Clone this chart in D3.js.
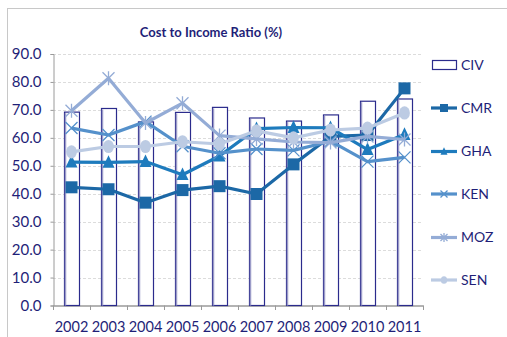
<!DOCTYPE html>
<html><head><meta charset="utf-8">
<script src="https://d3js.org/d3.v7.min.js"></script>
<style>
html,body{margin:0;padding:0;background:#fff;}
svg{display:block;}
text{font-family:Lato,"Liberation Sans",sans-serif;fill:#1f1f78;}
</style></head>
<body>
<script>
const years = ["2002","2003","2004","2005","2006","2007","2008","2009","2010","2011"];
const CIV = [69.2, 70.5, 65.7, 69.1, 70.9, 67.1, 66.0, 68.2, 73.1, 73.9];
const CMR = [42.3, 41.6, 36.8, 41.3, 42.7, 39.9, 50.5, 60.5, 61.0, 77.7];
const GHA = [51.3, 51.2, 51.5, 46.8, 53.5, 63.3, 63.7, 63.6, 55.8, 61.2];
const KEN = [63.5, 61.0, 65.8, 57.0, 54.5, 56.0, 55.5, 58.8, 51.5, 53.0];
const MOZ = [69.7, 81.3, 65.3, 72.4, 60.8, 59.6, 58.5, 58.3, 60.5, 59.4];
const SEN = [55.0, 56.9, 56.9, 58.6, 57.8, 62.5, 60.0, 62.8, 63.5, 68.9];
const yTicks = [0,10,20,30,40,50,60,70,80,90];
const title = "Cost to Income Ratio (%)";

const W = 507, H = 337;
const svg = d3.select("body").append("svg").attr("width", W).attr("height", H);

// outer frame
svg.append("rect").attr("x",7.5).attr("y",8.5).attr("width",W).attr("height",H)
  .attr("fill","none").attr("stroke","#c8c8c8").attr("stroke-width",1);

const x = d3.scaleBand().domain(years).range([53, 423]).padding(0);
const y = d3.scaleLinear().domain([0, 90]).range([305.5, 54]);

// gridlines
svg.append("g").selectAll("line").data(yTicks.slice(1)).join("line")
  .attr("x1", 53).attr("x2", 423)
  .attr("y1", d => Math.round(y(d)) + 0.5).attr("y2", d => Math.round(y(d)) + 0.5)
  .attr("stroke", "#dcdcdc").attr("stroke-dasharray", "3,2");

// y axis
const yAxis = d3.axisLeft(y).tickValues(yTicks).tickFormat(d3.format(".1f")).tickSize(3).tickPadding(9);
const gy = svg.append("g").attr("transform","translate(53.5,0)").call(yAxis);
gy.select(".domain").attr("stroke","#9a9a9a");
gy.selectAll(".tick line").attr("stroke","#9a9a9a");
gy.selectAll(".tick text").attr("font-size", 15).attr("font-family","Lato, sans-serif").attr("fill","#1f1f78");

// x axis
const xAxis = d3.axisBottom(x).tickSize(0).tickPadding(16);
const gx = svg.append("g").attr("transform","translate(0,305.5)").call(xAxis);
gx.select(".domain").attr("stroke","#9a9a9a").attr("stroke-width",1.5);
gx.selectAll(".tick text").attr("font-size", 14.5).attr("font-family","Lato, sans-serif").attr("fill","#1f1f78");
// band boundary ticks
svg.append("g").selectAll("line").data(d3.range(years.length + 1)).join("line")
  .attr("x1", i => 53 + i * x.bandwidth() + 0.5).attr("x2", i => 53 + i * x.bandwidth() + 0.5)
  .attr("y1", 305.5).attr("y2", 310).attr("stroke","#9a9a9a");

// CIV bars
const bw = 15;
const bars = svg.append("g");
bars.selectAll("rect").data(years).join("rect")
  .attr("x", (d) => Math.round(x(d) + x.bandwidth()/2 - bw/2) + 0.5)
  .attr("y", (d,i) => y(CIV[i]))
  .attr("width", bw)
  .attr("height", (d,i) => y(0) - y(CIV[i]))
  .attr("fill","#fff").attr("stroke","#2b2b8c").attr("stroke-width",1.2);
// lavender shading on left edge
bars.selectAll("line").data(years).join("line")
  .attr("x1", d => Math.round(x(d) + x.bandwidth()/2 - bw/2) + 1.5)
  .attr("x2", d => Math.round(x(d) + x.bandwidth()/2 - bw/2) + 1.5)
  .attr("y1", (d,i) => y(CIV[i]) + 1).attr("y2", y(0))
  .attr("stroke","#9c9cc8").attr("stroke-width",1.5);

const cx = d => x(d) + x.bandwidth()/2;

const series = [
  {name:"CMR", vals:CMR, color:"#1c68a6", marker:"square"},
  {name:"GHA", vals:GHA, color:"#1e7bbd", marker:"triangle"},
  {name:"KEN", vals:KEN, color:"#5591cb", marker:"x"},
  {name:"MOZ", vals:MOZ, color:"#94acd6", marker:"star"},
  {name:"SEN", vals:SEN, color:"#bccbe3", marker:"circle"}
];

function drawMarker(g, type, color, px, py, s) {
  if (type === "square") {
    g.append("rect").attr("x", px - s/2).attr("y", py - s/2).attr("width", s).attr("height", s).attr("fill", color);
  } else if (type === "triangle") {
    g.append("path").attr("d", `M${px},${py - s*0.6}L${px + s*0.5},${py + s*0.45}L${px - s*0.5},${py + s*0.45}Z`).attr("fill", color);
  } else if (type === "x") {
    const h = s/2;
    g.append("path").attr("d", `M${px-h},${py-h}L${px+h},${py+h}M${px-h},${py+h}L${px+h},${py-h}`)
      .attr("stroke", color).attr("stroke-width", 1.3).attr("fill","none");
  } else if (type === "star") {
    const h = s/2;
    g.append("path").attr("d", `M${px-h},${py-h}L${px+h},${py+h}M${px-h},${py+h}L${px+h},${py-h}M${px},${py-h-1}L${px},${py+h+1}`)
      .attr("stroke", color).attr("stroke-width", 1.3).attr("fill","none");
  } else if (type === "circle") {
    g.append("ellipse").attr("cx", px).attr("cy", py).attr("rx", s*0.45).attr("ry", s*0.55).attr("fill", color);
  }
}

const line = d3.line().x((d,i) => cx(years[i])).y(d => y(d));
series.forEach(s => {
  const g = svg.append("g");
  g.append("path").attr("d", line(s.vals)).attr("fill","none").attr("stroke", s.color)
    .attr("stroke-width", 3.2).attr("stroke-linejoin","round");
  s.vals.forEach((v,i) => drawMarker(g, s.marker, s.color, cx(years[i]), y(v), 12));
});

// title
svg.append("text").attr("x", 211).attr("y", 37).attr("text-anchor","middle")
  .attr("font-size", 13).attr("font-weight","bold").attr("fill","#1f1f78").text(title);

// legend
const lg = svg.append("g");
const legY = [65, 108, 151.5, 194, 237.5, 280];
lg.append("rect").attr("x", 432.5).attr("y", legY[0] - 4.5).attr("width", 24).attr("height", 9)
  .attr("fill","#fff").attr("stroke","#2b2b8c").attr("stroke-width",1.2);
lg.append("text").attr("x", 461).attr("y", legY[0]).attr("dy","0.35em").attr("font-size",14).text("CIV");
series.forEach((s,i) => {
  const ly = legY[i+1];
  lg.append("line").attr("x1", 431).attr("x2", 457).attr("y1", ly).attr("y2", ly)
    .attr("stroke", s.color).attr("stroke-width", 3.2);
  drawMarker(lg, s.marker, s.color, 444, ly, s.marker === "square" ? 8 : 7);
  lg.append("text").attr("x", 461).attr("y", ly).attr("dy","0.35em").attr("font-size",14).text(s.name);
});
</script>
</body></html>
